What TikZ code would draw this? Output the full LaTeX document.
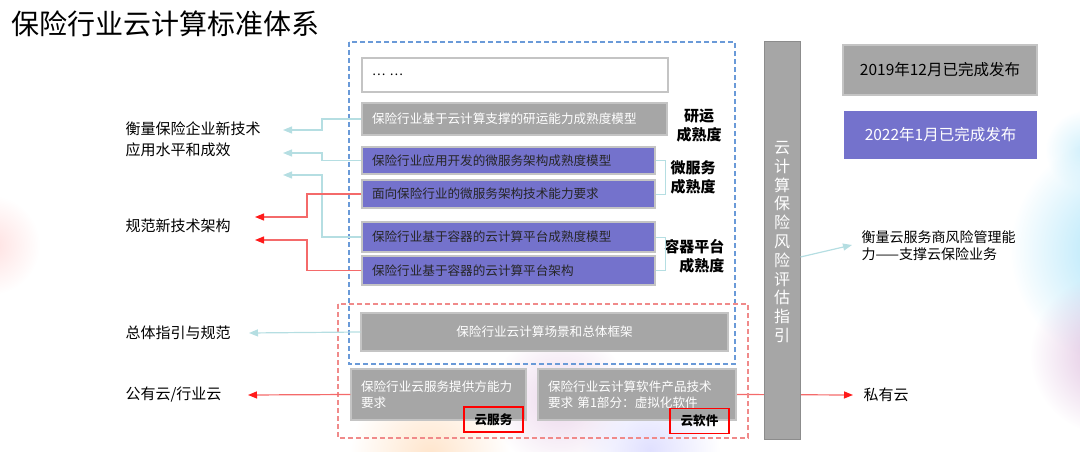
\documentclass[tikz,border=0pt]{standalone}
\usepackage{fontspec}
\setmainfont{Noto Sans CJK SC}
\usetikzlibrary{arrows.meta,fadings,backgrounds}

\definecolor{boxgrey}{HTML}{A6A6A6}
\definecolor{edgegrey}{HTML}{C4C4C4}
\definecolor{stdpurple}{HTML}{7472CC}
\definecolor{dashblue}{HTML}{6A9AD8}
\definecolor{dashred}{HTML}{F08A8A}
\definecolor{linkcyan}{HTML}{B5DEE2}
\definecolor{linkred}{HTML}{F46A6A}
\definecolor{tipred}{HTML}{FF1A1A}

\tikzfading[name=glow,inner color=transparent!0,outer color=transparent!100]

\newcommand\boxfont{\fontsize{12.6pt}{16pt}\selectfont}
\newcommand\sidefont{\fontsize{15pt}{21pt}\selectfont}

\begin{document}
\begin{tikzpicture}[x=1pt,y=-1pt,
  stdbox/.style={draw=edgegrey,line width=1.2pt,fill=boxgrey,text=white,
    inner xsep=10pt,inner ysep=0pt,font=\boxfont},
  leftbox/.style={stdbox,align=left,text width=#1},
  purplebox/.style={leftbox=#1,fill=stdpurple,text=black!85},
  tagbox/.style={draw=red,line width=1.2pt,inner sep=0pt,minimum width=59pt,
    minimum height=25pt,font=\boxfont\bfseries},
  levellabel/.style={font=\fontsize{15pt}{19pt}\selectfont\bfseries},
  cyanlink/.style={linkcyan,line width=1.2pt,-{Triangle[length=9pt,width=7pt]}},
  redlink/.style={linkred,line width=1.2pt,-{Triangle[length=9pt,width=7pt,color=tipred]}}]
  \useasboundingbox (0,0) rectangle (1080,452);

  % soft colour glows of the slide
  \begin{scope}
    \clip (0,0) rectangle (1080,452);
    \fill[cyan!35,path fading=glow] (1125,250) circle (115);
    \fill[violet!25,path fading=glow] (1110,355) circle (80);
    \fill[cyan!18,path fading=glow] (1085,150) circle (40);
    \fill[red!12,path fading=glow] (-10,245) circle (50);
    \fill[orange!20,path fading=glow] (430,455) circle (80);
    \fill[violet!16,path fading=glow] (560,400) circle (70);
    \fill[blue!12,path fading=glow] (650,450) circle (70);
  \end{scope}

  \node[anchor=west,font=\fontsize{28pt}{31pt}\selectfont] (title) at (8,24) {保险行业云计算标准体系};

  % frames
  \draw[dashblue,line width=1.1pt,dash pattern=on 5pt off 3pt] (349,42) rectangle (735,364);
  \draw[dashred,line width=1.1pt,dash pattern=on 5pt off 3pt] (338,304) rectangle (748,438);

  % standards
  \node[leftbox=286pt,fill=white,text=black,minimum height=34pt] (more) at (515,75) {… …};
  \node[leftbox=285pt,minimum height=32pt] (ry) at (514.5,119) {保险行业基于云计算支撑的研运能力成熟度模型};
  \node[purplebox=273pt,minimum height=27pt] (msA) at (508.5,160.5) {保险行业应用开发的微服务架构成熟度模型};
  \node[purplebox=273pt,minimum height=28pt] (msB) at (508.5,194) {面向保险行业的微服务架构技术能力要求};
  \node[purplebox=273pt,minimum height=30pt] (ctA) at (508.5,237) {保险行业基于容器的云计算平台成熟度模型};
  \node[purplebox=273pt,minimum height=29pt] (ctB) at (508.5,270.5) {保险行业基于容器的云计算平台架构};
  \node[stdbox,minimum width=367pt,minimum height=38pt] (scene) at (544.5,332) {保险行业云计算场景和总体框架};
  \node[leftbox=155pt,minimum height=51pt] (svc) at (438.5,394.5) {保险行业云服务提供方能力\\要求};
  \node[leftbox=178pt,minimum height=51pt] (sw) at (637,394.5) {保险行业云计算软件产品技术\\要求 第1部分：虚拟化软件};
  \node[tagbox] (svcTag) at (493.5,419.5) {云服务};
  \node[tagbox] (swTag) at (699.5,421) {云软件};

  % maturity labels
  \node[levellabel,align=center] (ryLbl) at (699,126) {研运\\成熟度};
  \node[levellabel,align=center] (msLbl) at (693,177.5) {微服务\\成熟度};
  \node[levellabel,align=right,anchor=east] (ctLbl) at (728,256) {容器平台\\成熟度};
  \draw[linkcyan,line width=1pt] (msA.east) -- ++(10,0) |- (msB.east);
  \draw[linkcyan,line width=1pt] (ctA.east) -- ++(10,0) |- (ctB.east);

  % risk guide bar
  \node[draw=black!45,line width=1pt,fill=boxgrey,minimum width=36pt,minimum height=397pt] (bar) at (782,240.5) {};
  \node[text=white,align=center,font=\fontsize{16pt}{18.8pt}\selectfont] (barTxt) at (782,242)
    {云\\计\\算\\保\\险\\风\\险\\评\\估\\指\\引};

  % legend
  \node[draw=edgegrey,line width=1.2pt,fill=boxgrey,minimum width=194pt,minimum height=50pt,
    font=\fontsize{15.5pt}{18pt}\selectfont] (done19) at (940,70) {2019年12月已完成发布};
  \node[fill=stdpurple,text=white,minimum width=193pt,minimum height=48pt,
    font=\fontsize{15.5pt}{18pt}\selectfont] (done22) at (940.5,135) {2022年1月已完成发布};

  % side texts
  \node[anchor=west,align=left,font=\sidefont] (impact) at (122,139.5) {衡量保险企业新技术\\应用水平和成效};
  \node[anchor=west,font=\sidefont] (arch) at (122,226) {规范新技术架构};
  \node[anchor=west,font=\sidefont] (guide) at (122,333) {总体指引与规范};
  \node[anchor=west,font=\sidefont] (public) at (122,395) {公有云/行业云};
  \node[anchor=west,align=left,font=\fontsize{14pt}{17pt}\selectfont] (risk) at (858,245.5) {衡量云服务商风险管理能\\力——支撑云保险业务};
  \node[anchor=west,font=\sidefont] (private) at (860,395) {私有云};

  % connectors
  \coordinate (jc) at (322,0);
  \coordinate (jr) at (307,0);
  \coordinate (tipA) at (283,130);
  \coordinate (tipB) at (283,153);
  \coordinate (tipC) at (283,175);
  \coordinate (tipD) at (255,217);
  \coordinate (tipE) at (255,240);
  \draw[cyanlink] (ry.west) -- (ry.west -| jc) |- (tipA);
  \draw[cyanlink] (msA.west) -- (msA.west -| jc) |- (tipB);
  \draw[cyanlink] (ctA.west) -- (ctA.west -| jc) |- (tipC);
  \draw[redlink] (msB.west) -- (msB.west -| jr) |- (tipD);
  \draw[redlink] (ctB.west) -- (ctB.west -| jr) |- (tipE);
  \draw[cyanlink] (scene.west) -- (guide.east -| 249,0);
  \draw[redlink] (svc.west) -- (public.east -| 248,0);
  \draw[cyanlink] ([yshift=-16.5pt]bar.east) -- (852,245);
  \begin{scope}[on background layer]
    \draw[redlink] (sw.east) -- (private.west -| 853,0);
  \end{scope}
\end{tikzpicture}
\end{document}
